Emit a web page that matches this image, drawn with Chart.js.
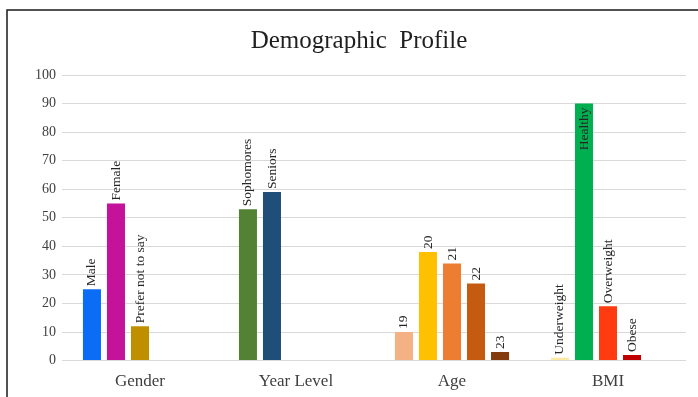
<!DOCTYPE html>
<html>
<head>
<meta charset="utf-8">
<script src="https://cdn.jsdelivr.net/npm/chart.js@4/dist/chart.umd.min.js"></script>
<style>
  html, body { margin: 0; padding: 0; background: #fff; }
  #wrap { width: 698px; height: 397px; position: relative; }
</style>
</head>
<body>
<div id="wrap"><canvas id="chart" width="698" height="397"></canvas></div>
<script>
// Groups along the x axis
const categories = ['Gender', 'Year Level', 'Age', 'BMI'];

// Values in each group (percent)
const genderValues = [25, 55, 12];
const yearLevelValues = [53, 59];
const ageValues = [10, 38, 34, 27, 3];
const bmiValues = [1, 90, 19, 2];

// Bar labels in each group
const genderLabels = ['Male', 'Female', 'Prefer not to say'];
const yearLevelLabels = ['Sophomores', 'Seniors'];
const ageLabels = ['19', '20', '21', '22', '23'];
const bmiLabels = ['Underweight', 'Healthy', 'Overweight', 'Obese'];

// Bar colours in each group
const genderColors = ['#0B6CF5', '#C4129A', '#BF8F00'];
const yearLevelColors = ['#548235', '#1F4E79'];
const ageColors = ['#F4B183', '#FFC000', '#ED7D31', '#C55A11', '#843C0C'];
const bmiColors = ['#FFE9A0', '#00B050', '#FF3B0F', '#C00000'];

// y axis tick values
const yTicks = [0, 10, 20, 30, 40, 50, 60, 70, 80, 90, 100];

const groupValues = [genderValues, yearLevelValues, ageValues, bmiValues];
const groupLabels = [genderLabels, yearLevelLabels, ageLabels, bmiLabels];
const groupColors = [genderColors, yearLevelColors, ageColors, bmiColors];

// One dataset per bar slot; groups with fewer bars leave later slots empty
const slotCount = Math.max(...groupValues.map(v => v.length));
const datasets = [];
for (let s = 0; s < slotCount; s++) {
  datasets.push({
    label: 'slot ' + (s + 1),
    data: groupValues.map(v => (s < v.length ? v[s] : null)),
    backgroundColor: groupColors.map(c => c[s] || 'transparent'),
    barLabels: groupLabels.map(l => l[s] || ''),
    borderWidth: 0
  });
}

const SERIF = '"Liberation Serif", "Times New Roman", serif';

// Frame lines along the top and left edges
const framePlugin = {
  id: 'frame',
  beforeDraw(chart) {
    const ctx = chart.ctx;
    ctx.save();
    ctx.fillStyle = '#ffffff';
    ctx.fillRect(0, 0, chart.width, chart.height);
    ctx.strokeStyle = '#1a1a1a';
    ctx.lineWidth = 1.5;
    ctx.beginPath();
    ctx.moveTo(7, chart.height);
    ctx.lineTo(7, 10);
    ctx.lineTo(chart.width, 10);
    ctx.stroke();
    ctx.restore();
  }
};

// Vertical text labels on each bar; labels that would not fit sit inside the bar top
const barLabelPlugin = {
  id: 'barLabels',
  afterDatasetsDraw(chart) {
    const ctx = chart.ctx;
    const area = chart.chartArea;
    ctx.save();
    ctx.font = '13.5px ' + SERIF;
    ctx.fillStyle = '#262626';
    ctx.textBaseline = 'middle';
    chart.data.datasets.forEach((ds, di) => {
      const meta = chart.getDatasetMeta(di);
      meta.data.forEach((bar, i) => {
        const text = ds.barLabels[i];
        if (!text || ds.data[i] === null) return;
        const w = ctx.measureText(text).width;
        ctx.save();
        ctx.translate(bar.x, bar.y);
        ctx.rotate(-Math.PI / 2);
        if (bar.y - 3 - w < area.top) {
          ctx.textAlign = 'right';
          ctx.fillText(text, -4, 0);
        } else {
          ctx.textAlign = 'left';
          ctx.fillText(text, 3, 0);
        }
        ctx.restore();
      });
    });
    ctx.restore();
  }
};

new Chart(document.getElementById('chart'), {
  type: 'bar',
  data: { labels: categories, datasets },
  plugins: [framePlugin, barLabelPlugin],
  options: {
    responsive: false,
    animation: false,
    events: [],
    layout: { padding: { top: 24, left: 32, right: 12, bottom: -6 } },
    datasets: {
      bar: { categoryPercentage: 0.77, barPercentage: 0.75 }
    },
    plugins: {
      legend: { display: false },
      tooltip: { enabled: false },
      title: {
        display: true,
        text: 'Demographic  Profile',
        color: '#1f1f1f',
        font: { family: SERIF, size: 25, weight: 'normal' },
        padding: { top: 2, bottom: 19 }
      }
    },
    scales: {
      x: {
        grid: { display: false, drawTicks: false },
        border: { display: false },
        ticks: {
          color: '#404040',
          font: { family: SERIF, size: 17 },
          padding: 11
        }
      },
      y: {
        min: 0,
        max: 100,
        afterFit(scale) { scale.width = 30; },
        afterBuildTicks(scale) { scale.ticks = yTicks.map(v => ({ value: v })); },
        grid: { color: '#d9d9d9', lineWidth: 1, drawTicks: false },
        border: { display: false },
        ticks: {
          color: '#404040',
          font: { family: SERIF, size: 14 },
          padding: 6
        }
      }
    }
  }
});
</script>
</body>
</html>
